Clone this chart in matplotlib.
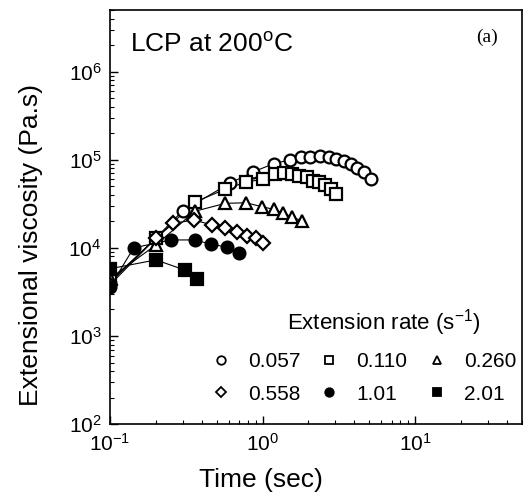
import matplotlib
matplotlib.use('Agg')
from matplotlib import pyplot as plt
import numpy as np

plt.rcParams['font.family'] = ['Liberation Sans', 'DejaVu Sans']
plt.rcParams['mathtext.fontset'] = 'custom'
plt.rcParams['mathtext.rm'] = 'Liberation Sans'
plt.rcParams['mathtext.it'] = 'Liberation Sans:italic'
plt.rcParams['mathtext.bf'] = 'Liberation Sans:bold'

# extension rate 0.057 1/s
t_057 = [0.1, 0.2, 0.30, 0.61, 0.87, 1.18, 1.52, 1.79, 2.06, 2.38, 2.71, 3.05, 3.42, 3.79, 4.17, 4.61, 5.1]
eta_057 = [4.0e3, 1.3e4, 2.64e4, 5.4e4, 7.3e4, 9.0e4, 1.0e5, 1.06e5, 1.07e5, 1.1e5, 1.07e5, 1.03e5,
           9.7e4, 9.0e4, 8.1e4, 7.3e4, 6.0e4]
# 0.110 1/s
t_110 = [0.1, 0.2, 0.36, 0.57, 0.78, 1.0, 1.2, 1.39, 1.57, 1.74, 1.96, 2.14, 2.34, 2.56, 2.8, 3.03]
eta_110 = [4.2e3, 1.28e4, 3.3e4, 4.64e4, 5.57e4, 6.0e4, 6.86e4, 7.0e4, 6.86e4, 6.5e4, 6.35e4, 5.7e4,
           5.57e4, 5.15e4, 4.64e4, 4.07e4]
# 0.260 1/s
t_260 = [0.1, 0.2, 0.36, 0.57, 0.78, 0.99, 1.18, 1.36, 1.57, 1.82]
eta_260 = [4.5e3, 1.08e4, 2.6e4, 3.2e4, 3.25e4, 2.93e4, 2.74e4, 2.5e4, 2.22e4, 2.03e4]
# 0.558 1/s
t_558 = [0.1, 0.2, 0.26, 0.355, 0.467, 0.569, 0.677, 0.795, 0.904, 1.01]
eta_558 = [3.8e3, 1.29e4, 1.9e4, 2.07e4, 1.82e4, 1.67e4, 1.53e4, 1.37e4, 1.29e4, 1.15e4]
# 1.01 1/s
t_101 = [0.1, 0.143, 0.25, 0.36, 0.46, 0.587, 0.697]
eta_101 = [3.6e3, 1.0e4, 1.23e4, 1.23e4, 1.1e4, 1.02e4, 8.7e3]
# 2.01 1/s
t_201 = [0.1, 0.2, 0.31, 0.37]
eta_201 = [5.8e3, 7.3e3, 5.6e3, 4.4e3]

series = [
    (t_057, eta_057, 'o', 'white', 8.5, '0.057'),
    (t_110, eta_110, 's', 'white', 8.0, '0.110'),
    (t_260, eta_260, '^', 'white', 8.5, '0.260'),
    (t_558, eta_558, 'D', 'white', 7.0, '0.558'),
    (t_101, eta_101, 'o', 'black', 8.5, '1.01'),
    (t_201, eta_201, 's', 'black', 8.0, '2.01'),
]

fig = plt.figure(figsize=(5.30, 4.99), dpi=100)
ax = fig.add_axes([0.2075, 0.150, 0.777, 0.830])

handles = []
for k, (t, eta, mk, fc, ms, lab) in enumerate(series):
    ax.plot(t, eta, '-', color='black', lw=0.8, zorder=1)
    ax.plot(t, eta, mk, mfc=fc, mec='black', mew=1.6, ms=ms, ls='none', zorder=2 + k * 0.1)
    h, = ax.plot([], [], mk, mfc=fc, mec='black', mew=1.3, ms=ms * 0.72, ls='none', label=lab)
    handles.append(h)

ax.set_xscale('log')
ax.set_yscale('log')
ax.set_xlim(0.1, 50)
ax.set_ylim(1e2, 5e6)

ax.tick_params(which='both', direction='in', top=False, right=False, labelsize=15)
ax.tick_params(which='major', length=6, width=1)
ax.tick_params(which='minor', length=3, width=0.8)
ax.tick_params(axis='y', pad=6)
ax.tick_params(axis='x', pad=6)
for s in ax.spines.values():
    s.set_linewidth(1.2)

ax.set_xlabel('Time (sec)', fontsize=19)
ax.xaxis.set_label_coords(0.367, -0.105)
ax.set_ylabel('Extensional viscosity (Pa.s)', fontsize=19)
ax.yaxis.set_label_coords(-0.162, 0.432)

ax.text(0.049, 0.90, r'LCP at 200$^{\rm o}$C', transform=ax.transAxes, fontsize=19, va='baseline')
ax.text(0.915, 0.935, '(a)', transform=ax.transAxes, fontsize=14, ha='center', va='center',
        family='Liberation Serif')

ax.text(0.665, 0.246, 'Extension rate (s$^{-1}$)', transform=ax.transAxes, fontsize=16,
        ha='center', va='center')

order = [0, 3, 1, 4, 2, 5]
leg = ax.legend([handles[i] for i in order], [handles[i].get_label() for i in order],
                ncol=3, loc='center', bbox_to_anchor=(0.615, 0.112), frameon=False,
                fontsize=15, handletextpad=0.8, columnspacing=0.9, labelspacing=0.65,
                handlelength=1.0)

fig.savefig('out.png', dpi=100)
